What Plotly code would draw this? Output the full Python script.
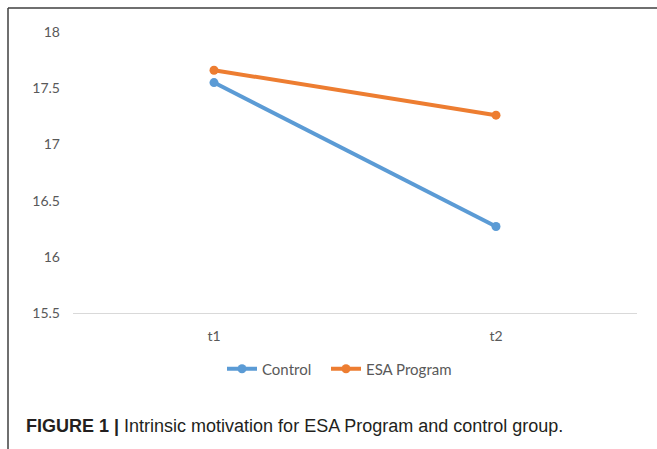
import plotly.graph_objects as go

# Mean intrinsic motivation at two time points
time_points = ["t1", "t2"]
control_scores = [17.55, 16.27]
esa_scores = [17.66, 17.26]
y_ticks = [15.5, 16, 16.5, 17, 17.5, 18]
y_tick_text = ["15.5", "16", "16.5", "17", "17.5", "18"]

BLUE = "#5B9BD5"
ORANGE = "#ED7D31"
TICK_GRAY = "#595959"

fig = go.Figure()
fig.add_trace(go.Scatter(
    x=time_points, y=control_scores, name="Control",
    mode="lines+markers", legend="legend",
    line=dict(color=BLUE, width=4),
    marker=dict(color=BLUE, size=9),
))
fig.add_trace(go.Scatter(
    x=time_points, y=esa_scores, name="ESA Program",
    mode="lines+markers", legend="legend2",
    line=dict(color=ORANGE, width=4),
    marker=dict(color=ORANGE, size=9),
))

L, R, T, B = 73, 20, 32, 136
W, H = 657, 449
pw, ph = W - L - R, H - T - B

def px_x(px):
    return (px - L) / pw

def px_y(py):
    return (H - B - py) / ph

legend_style = dict(
    orientation="h", xanchor="left",
    y=px_y(369), yanchor="middle",
    font=dict(size=15, color=TICK_GRAY),
)

fig.update_layout(
    width=W, height=H,
    margin=dict(l=L, r=R, t=T, b=B),
    paper_bgcolor="white", plot_bgcolor="white",
    font=dict(family="Lato, Open Sans, sans-serif", color=TICK_GRAY, size=14),
    xaxis=dict(
        type="category", range=[-0.5, 1.5],
        showgrid=False, showline=True, linecolor="#D9D9D9", linewidth=1,
        ticks="", ticklabelstandoff=10,
        tickfont=dict(size=14, color=TICK_GRAY),
        zeroline=False, fixedrange=True,
    ),
    yaxis=dict(
        range=[15.5, 18], tickvals=y_ticks, ticktext=y_tick_text,
        showgrid=False, showline=False, zeroline=False, ticks="",
        ticklabelstandoff=12,
        tickfont=dict(size=14, color=TICK_GRAY), fixedrange=True,
    ),
    showlegend=True,
    legend=dict(x=px_x(222), **legend_style),
    legend2=dict(x=px_x(326), **legend_style),
    shapes=[
        dict(type="line", xref="paper", yref="paper",
             x0=px_x(8), x1=px_x(8), y0=px_y(8), y1=px_y(452),
             line=dict(color="#3F3F3F", width=1.5)),
        dict(type="line", xref="paper", yref="paper",
             x0=px_x(8), x1=px_x(660), y0=px_y(8), y1=px_y(8),
             line=dict(color="#3F3F3F", width=1.5)),
    ],
    annotations=[
        dict(
            xref="paper", yref="paper", x=px_x(24), y=px_y(426),
            xanchor="left", yanchor="middle", showarrow=False,
            text="<b>FIGURE 1 |</b> Intrinsic motivation for ESA Program and control group.",
            font=dict(family="Liberation Sans, Arial, sans-serif", size=18, color="#231F20"),
        )
    ],
)

fig.write_html("out.html")
